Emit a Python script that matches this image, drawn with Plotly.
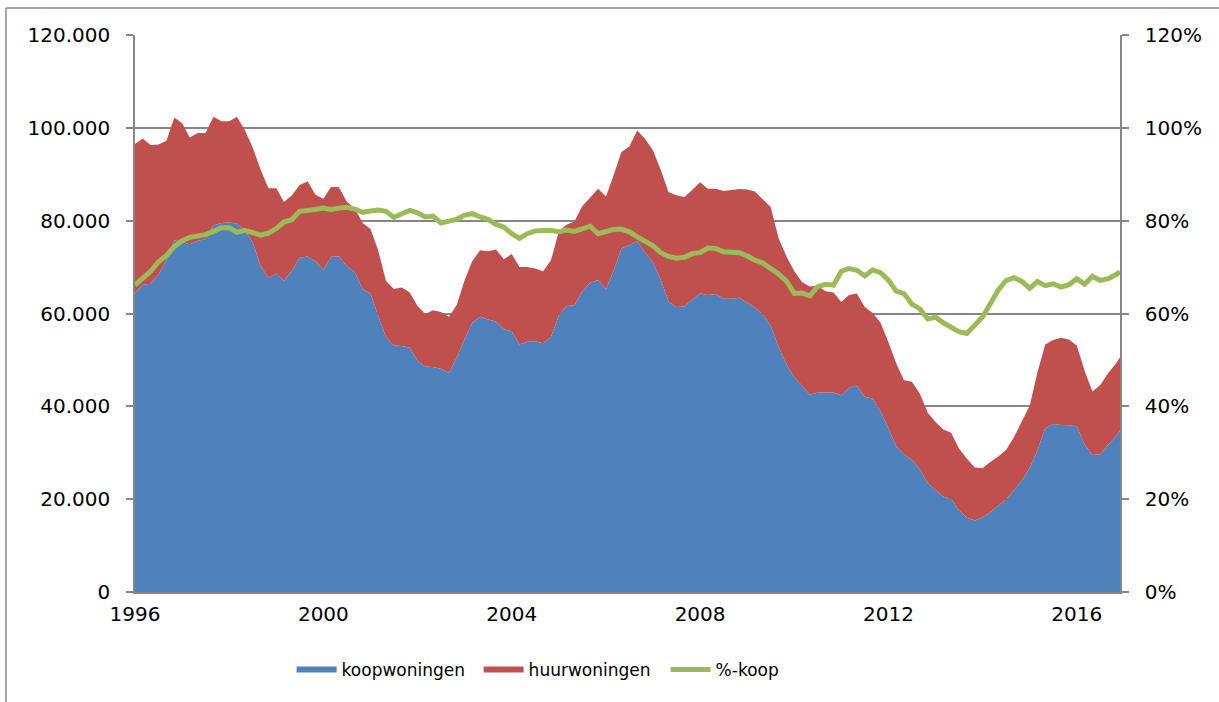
import plotly.graph_objects as go
import pandas as pd

# Categories: months (every 2 months from Jan 1996, plus Dec 2016)
dates = list(pd.date_range("1996-01-01", periods=126, freq="2MS").strftime("%Y-%m-%d")) + ["2016-12-01"]

# koopwoningen (x 1000)
koop_k = [
    64.3, 66.2, 66.4, 68.4, 71.4, 75.8, 75.4, 74.9, 75.7, 76.0,
    79.0, 79.5, 79.6, 79.4, 77.9, 75.4, 70.3, 67.6, 68.6, 67.0,
    69.2, 72.0, 72.3, 71.2, 69.4, 72.2, 72.3, 70.2, 68.9, 65.2,
    64.3, 59.5, 54.9, 53.1, 53.0, 52.6, 49.8, 48.6, 48.5, 48.1,
    47.2, 50.5, 54.5, 58.0, 59.3, 58.7, 58.3, 56.6, 56.2, 53.3,
    53.9, 54.0, 53.6, 55.0, 59.6, 61.6, 61.8, 64.8, 66.6, 67.2,
    65.2, 69.2, 74.0, 74.7, 75.6, 73.1, 71.0, 67.3, 62.6, 61.4,
    61.5, 63.0, 64.3, 64.0, 64.2, 63.2, 63.2, 63.4, 62.3, 61.3,
    59.8, 57.4, 52.8, 49.0, 46.2, 44.5, 42.5, 43.0, 43.0, 43.0,
    42.4, 44.0, 44.5, 42.0, 41.7, 38.9, 35.2, 31.4, 29.6, 28.5,
    26.4, 23.5, 22.0, 20.6, 20.1, 17.6, 16.0, 15.4, 16.1, 17.2,
    18.6, 20.0, 22.0, 24.0, 26.7, 30.5, 35.3, 36.2, 36.0, 35.9,
    35.7, 31.8, 29.5, 29.7, 31.7, 33.6, 34.8,
]

# huurwoningen (x 1000)
huur_k = [
    32.2, 31.5, 29.9, 28.0, 25.8, 26.4, 25.6, 23.0, 23.2, 22.9,
    23.4, 21.9, 21.8, 23.0, 21.7, 20.4, 20.7, 19.4, 18.4, 17.0,
    16.2, 15.7, 16.2, 14.4, 15.3, 15.1, 14.9, 13.9, 13.8, 14.3,
    13.9, 14.1, 12.1, 12.2, 12.6, 11.9, 11.8, 11.3, 12.2, 12.2,
    12.1, 11.4, 12.7, 13.3, 14.3, 14.7, 15.5, 15.1, 16.6, 16.7,
    16.1, 15.7, 15.5, 16.5, 18.2, 17.5, 18.0, 18.3, 18.4, 19.7,
    20.0, 20.6, 20.8, 21.3, 23.8, 24.5, 24.1, 23.7, 23.6, 24.1,
    23.6, 23.6, 24.0, 22.9, 22.7, 23.2, 23.4, 23.4, 24.4, 25.0,
    24.8, 25.6, 23.4, 23.3, 22.9, 22.3, 23.3, 23.0, 21.8, 21.5,
    20.1, 20.0, 19.8, 19.4, 18.4, 19.1, 18.6, 17.9, 16.0, 16.8,
    16.3, 15.1, 14.6, 14.4, 14.2, 13.3, 12.7, 11.4, 10.6, 10.8,
    10.6, 10.6, 11.4, 12.8, 13.4, 16.8, 18.0, 18.1, 18.8, 18.5,
    17.4, 15.9, 13.7, 14.9, 15.5, 15.7, 15.8,
]

# %-koop
pct_koop = [
    66.1, 67.5, 69.1, 71.1, 72.5, 74.4, 75.7, 76.4, 76.7, 77.0,
    77.7, 78.5, 78.5, 77.5, 77.9, 77.4, 76.9, 77.3, 78.3, 79.7,
    80.2, 82.0, 82.1, 82.4, 82.7, 82.4, 82.7, 82.9, 82.5, 81.8,
    82.1, 82.3, 82.0, 80.7, 81.5, 82.2, 81.7, 80.8, 81.0, 79.5,
    79.9, 80.3, 81.2, 81.5, 80.8, 80.3, 79.2, 78.6, 77.2, 76.2,
    77.2, 77.8, 77.9, 77.9, 77.6, 78.0, 77.7, 78.2, 78.8, 77.2,
    77.6, 78.1, 78.2, 77.6, 76.5, 75.5, 74.6, 73.1, 72.3, 71.9,
    72.1, 72.9, 73.1, 74.1, 74.0, 73.3, 73.3, 73.1, 72.4, 71.5,
    70.9, 69.8, 68.5, 67.0, 64.3, 64.4, 63.8, 65.8, 66.3, 66.1,
    69.1, 69.7, 69.3, 68.1, 69.4, 68.8, 67.2, 64.8, 64.3, 62.0,
    61.0, 58.8, 59.2, 58.0, 57.1, 56.1, 55.7, 57.5, 59.3, 62.1,
    65.0, 67.1, 67.7, 66.9, 65.4, 66.9, 66.0, 66.4, 65.7, 66.2,
    67.5, 66.3, 68.0, 67.1, 67.5, 68.4, 69.0,
]

tick_dates = ["1996-01-01", "2000-01-01", "2004-01-01", "2008-01-01", "2012-01-01", "2016-01-01"]
tick_labels = ["1996", "2000", "2004", "2008", "2012", "2016"]

koop = [v * 1000 for v in koop_k]
huur = [v * 1000 for v in huur_k]

BLUE = "#4F81BD"
RED = "#C0504D"
GREEN = "#9BBB59"
GRID = "#868686"

fig = go.Figure()
fig.add_trace(go.Scatter(x=dates, y=koop, name="koopwoningen", stackgroup="one",
                         mode="none", fillcolor=BLUE))
fig.add_trace(go.Scatter(x=dates, y=huur, name="huurwoningen", stackgroup="one",
                         mode="none", fillcolor=RED))
fig.add_trace(go.Scatter(x=dates, y=pct_koop, name="%-koop", yaxis="y2",
                         mode="lines", line=dict(color=GREEN, width=5)))

fig.update_layout(
    width=1219, height=702,
    margin=dict(l=135, r=99, t=35, b=110),
    paper_bgcolor="white", plot_bgcolor="white",
    font=dict(family="DejaVu Sans", size=20, color="black"),
    separators=",.",
    showlegend=True,
    xaxis=dict(type="date", range=["1996-01-01", "2016-12-01"],
               tickvals=tick_dates, ticktext=tick_labels,
               showgrid=False, zeroline=False, showline=True,
               linecolor=GRID, linewidth=1.5, ticks="",
               tickfont=dict(size=20), ticklabelstandoff=3),
    yaxis=dict(range=[0, 120000], dtick=20000, tickformat=",d",
               showgrid=True, gridcolor=GRID, gridwidth=1.5,
               zeroline=False, showline=True, linecolor=GRID, linewidth=1.5,
               ticks="outside", ticklen=7, tickcolor=GRID, tickwidth=1.5,
               ticklabelstandoff=12, tickfont=dict(size=20)),
    yaxis2=dict(range=[0, 120], dtick=20, ticksuffix="%", overlaying="y", side="right",
                showgrid=False, zeroline=False, showline=True, linecolor=GRID, linewidth=1.5,
                ticks="outside", ticklen=7, tickcolor=GRID, tickwidth=1.5,
                ticklabelstandoff=12, tickfont=dict(size=20)),
    legend=dict(orientation="h", x=0.159, xanchor="left", y=-0.14, yanchor="middle",
                font=dict(size=17), traceorder="normal", itemwidth=40,
                entrywidth=132, entrywidthmode="pixels",
                bgcolor="rgba(0,0,0,0)"),
    shapes=[
        dict(type="line", xref="paper", yref="paper", x0=-0.131, x1=1.2, y0=1.0485, y1=1.0485,
             line=dict(color="#8a8a8a", width=1.5)),
        dict(type="line", xref="paper", yref="paper", x0=-0.131, x1=-0.131, y0=1.0485, y1=-0.3,
             line=dict(color="#8a8a8a", width=1.5)),
    ],
)

fig.write_html("out.html", config={"displayModeBar": False},
               post_script="document.body.style.margin='0';document.body.style.overflow='hidden';")
